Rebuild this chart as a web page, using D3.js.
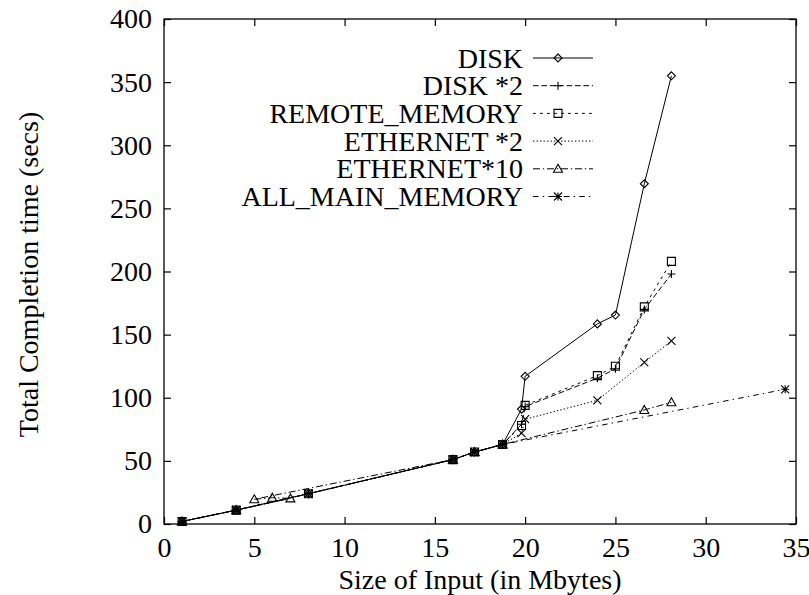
<!DOCTYPE html>
<html>
<head>
<meta charset="utf-8">
<script src="https://cdn.jsdelivr.net/npm/d3@7/dist/d3.min.js"></script>
<style>
  html, body { margin: 0; padding: 0; background: #fff; }
  svg { display: block; }
  text { font-family: "Liberation Serif", "Times New Roman", serif; fill: #000; }
</style>
</head>
<body>
<svg id="chart" width="809" height="595"></svg>
<script>
// Axis ticks
const xTicks = [0, 5, 10, 15, 20, 25, 30, 35];
const yTicks = [0, 50, 100, 150, 200, 250, 300, 350, 400];

// Series: input size (Mbytes) and total completion time (secs), in plotted order
const seriesNames = ["DISK", "DISK *2", "REMOTE_MEMORY", "ETHERNET *2", "ETHERNET*10", "ALL_MAIN_MEMORY"];

const xDisk = [1, 4, 8, 16, 17.2, 18.75, 19.8, 20, 24, 25, 26.6, 28.1];
const yDisk = [2, 11, 24, 51, 57, 63, 91, 117, 158.5, 165.5, 269.5, 355];

const xDisk2 = [1, 4, 8, 16, 17.2, 18.75, 19.8, 20, 24, 25, 26.6, 28.1];
const yDisk2 = [2, 11, 24, 51, 57, 63, 79, 93, 115.5, 123, 170, 198];

const xRemote = [1, 4, 8, 16, 17.2, 18.75, 19.8, 20, 24, 25, 26.6, 28.1];
const yRemote = [2, 11, 24, 51, 57, 63, 78, 94, 117.5, 125, 172, 208];

const xEth2 = [1, 4, 8, 16, 17.2, 18.75, 19.8, 20, 24, 26.6, 28.1];
const yEth2 = [2, 11, 24, 51, 57, 63, 72, 83, 98, 128, 145];

const xEth10 = [1, 4, 7, 6, 5, 16, 17.2, 18.75, 26.6, 28.1];
const yEth10 = [2, 11, 20.3, 20.8, 19.6, 51, 57, 63, 90.3, 96.4];

const xAllMem = [1, 4, 8, 16, 17.2, 18.75, 34.4];
const yAllMem = [2, 11, 24, 51, 57, 63, 106.7];

const seriesX = [xDisk, xDisk2, xRemote, xEth2, xEth10, xAllMem];
const seriesY = [yDisk, yDisk2, yRemote, yEth2, yEth10, yAllMem];

// Line dash patterns and point symbols per series
const dashes = ["", "5.6,2.8", "2.8,4.2", "1.4,2.1", "7,2.8,1.4,2.8", "5.6,4.2,1.4,4.2"];
const symbols = ["diamond", "plus", "square", "cross", "triangle", "star"];

(function draw() {
  const svg = d3.select("#chart");
  const mLeft = 164, mRight = 796, mTop = 19, mBottom = 524;

  const x = d3.scaleLinear().domain([0, 35]).range([mLeft, mRight]);
  const y = d3.scaleLinear().domain([0, 400]).range([mBottom, mTop]);

  const fontSize = 28;
  const tickLen = 7;

  // Point symbol paths centred on (0,0)
  function symbolPath(kind) {
    const r = 4;
    switch (kind) {
      case "diamond": return `M0,${-r}L${r},0L0,${r}L${-r},0Z`;
      case "plus": return `M${-r},0H${r}M0,${-r}V${r}`;
      case "square": return `M${-r},${-r}H${r}V${r}H${-r}Z`;
      case "cross": return `M${-r},${-r}L${r},${r}M${-r},${r}L${r},${-r}`;
      case "triangle": return `M0,${-r - 0.5}L${r + 0.5},${r - 0.5}L${-r - 0.5},${r - 0.5}Z`;
      case "star": return `M${-r},0H${r}M0,${-r}V${r}M${-r},${-r}L${r},${r}M${-r},${r}L${r},${-r}`;
    }
  }

  // Frame
  svg.append("rect")
    .attr("x", mLeft).attr("y", mTop)
    .attr("width", mRight - mLeft).attr("height", mBottom - mTop)
    .attr("fill", "none").attr("stroke", "#000").attr("stroke-width", 1.3);

  // Axes with inward ticks, mirrored on top/right
  const xAxis = d3.axisBottom(x).tickValues(xTicks).tickSize(-tickLen).tickPadding(13).tickFormat(d3.format("d"));
  const yAxis = d3.axisLeft(y).tickValues(yTicks).tickSize(-tickLen).tickPadding(12).tickFormat(d3.format("d"));

  const gx = svg.append("g").attr("transform", `translate(0,${mBottom})`).call(xAxis);
  const gy = svg.append("g").attr("transform", `translate(${mLeft},0)`).call(yAxis);
  const gxTop = svg.append("g").attr("transform", `translate(0,${mTop})`)
    .call(d3.axisTop(x).tickValues(xTicks).tickSize(-tickLen).tickFormat(""));
  const gyRight = svg.append("g").attr("transform", `translate(${mRight},0)`)
    .call(d3.axisRight(y).tickValues(yTicks).tickSize(-tickLen).tickFormat(""));

  [gx, gy, gxTop, gyRight].forEach(g => {
    g.attr("font-family", null);
    g.select(".domain").remove();
    g.selectAll(".tick line").attr("stroke", "#000").attr("stroke-width", 1.2);
    g.selectAll(".tick text")
      .style("font-family", '"Liberation Serif", "Times New Roman", serif')
      .style("font-size", fontSize + "px").attr("fill", "#000");
  });

  // Axis titles
  svg.append("text")
    .attr("x", (mLeft + mRight) / 2).attr("y", 579)
    .attr("text-anchor", "middle").attr("dominant-baseline", "central")
    .style("font-size", fontSize + "px")
    .text("Size of Input (in Mbytes)");

  svg.append("text")
    .attr("transform", `translate(28,${(mTop + mBottom) / 2 + 3}) rotate(-90)`)
    .attr("text-anchor", "middle").attr("dominant-baseline", "central")
    .style("font-size", fontSize + "px")
    .text("Total Completion time (secs)");

  // Series lines and points
  const line = d3.line().x(d => x(d[0])).y(d => y(d[1]));
  const plot = svg.append("g");

  seriesNames.forEach((name, i) => {
    const pts = seriesX[i].map((v, j) => [v, seriesY[i][j]]);
    plot.append("path")
      .datum(pts)
      .attr("d", line)
      .attr("fill", "none")
      .attr("stroke", "#000")
      .attr("stroke-width", 1)
      .attr("stroke-dasharray", dashes[i] || null);
    plot.append("g").selectAll("path")
      .data(pts)
      .join("path")
      .attr("transform", d => `translate(${x(d[0])},${y(d[1])})`)
      .attr("d", symbolPath(symbols[i]))
      .attr("fill", "none")
      .attr("stroke", "#000")
      .attr("stroke-width", 1.1);
  });

  // Legend
  const legend = svg.append("g");
  const legX = 523, legLineX0 = 533, legLineX1 = 593, legMarkX = 558;
  seriesNames.forEach((name, i) => {
    const ly = 58 + i * 27.7;
    legend.append("text")
      .attr("x", legX).attr("y", ly)
      .attr("text-anchor", "end").attr("dominant-baseline", "central")
      .style("font-size", fontSize + "px")
      .text(name);
    legend.append("line")
      .attr("x1", legLineX0).attr("x2", legLineX1)
      .attr("y1", ly).attr("y2", ly)
      .attr("stroke", "#000").attr("stroke-width", 1)
      .attr("stroke-dasharray", dashes[i] || null);
    legend.append("path")
      .attr("transform", `translate(${legMarkX},${ly})`)
      .attr("d", symbolPath(symbols[i]))
      .attr("fill", "none").attr("stroke", "#000").attr("stroke-width", 1.1);
  });
})();
</script>
</body>
</html>
